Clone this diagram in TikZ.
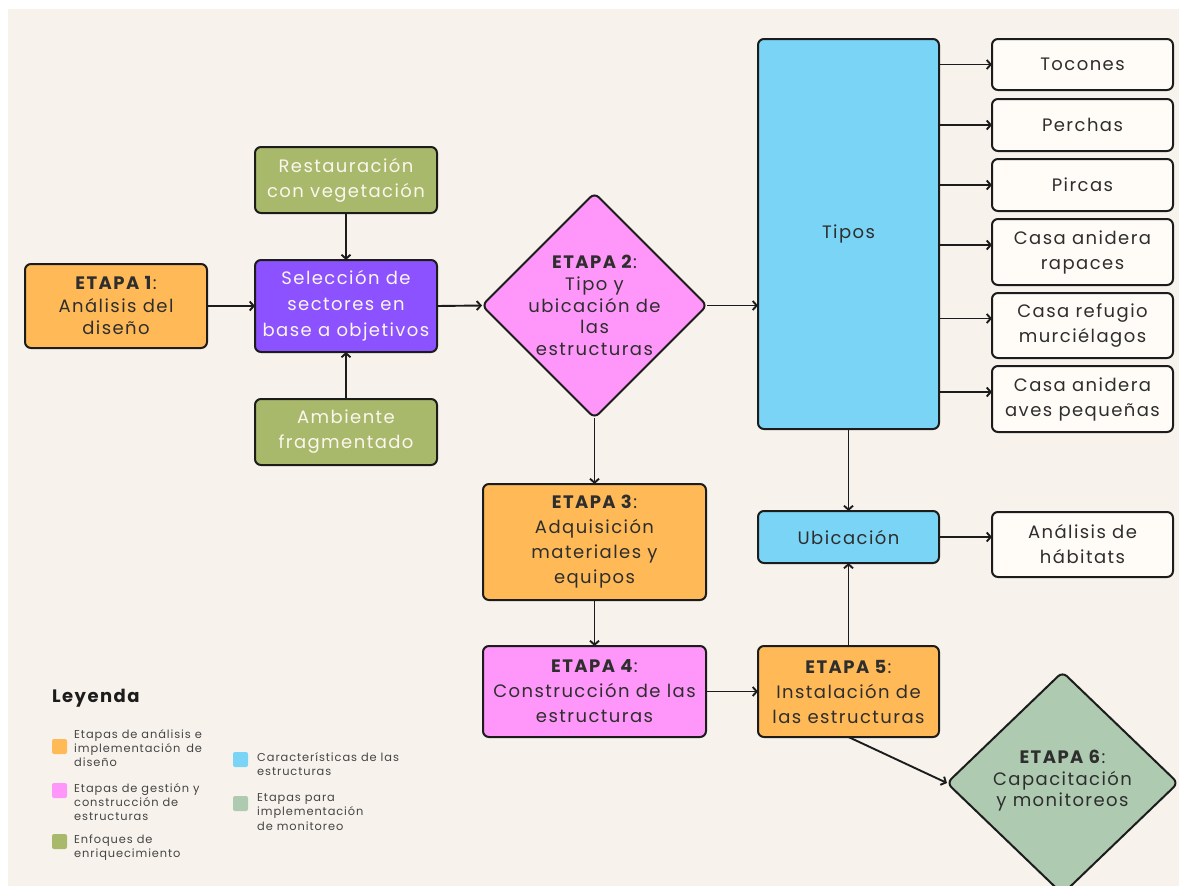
\documentclass[tikz,border=0pt]{standalone}
\usepackage{fontspec}
\setmainfont{Poppins}[LetterSpace=8]
\usetikzlibrary{arrows.meta,shapes.geometric,calc}
\definecolor{cream}{HTML}{F7F3EC}
\definecolor{orng}{HTML}{FFBA57}
\definecolor{purp}{HTML}{8C52FF}
\definecolor{olive}{HTML}{A9B96C}
\definecolor{pnk}{HTML}{FF97FA}
\definecolor{sky}{HTML}{7AD4F6}
\definecolor{sage}{HTML}{AECAB0}
\definecolor{paper}{HTML}{FFFCF7}
\definecolor{ink}{HTML}{1C1C1C}
\definecolor{txt}{HTML}{2E2E2E}
\definecolor{lighttxt}{HTML}{FBF6EE}
\definecolor{legtxt}{HTML}{444444}
\tikzset{
  box/.style={draw=ink, line width=2pt, rounded corners=6pt, align=center, inner sep=0pt, outer sep=0pt,
    text=txt, font=\fontsize{18}{25}\selectfont},
  dia/.style={diamond, draw=ink, line width=2pt, rounded corners=6pt, inner sep=0pt, outer sep=0pt},
  diatext/.style={align=center, inner sep=0pt, text=txt, font=\fontsize{18}{21.7}\selectfont},
  arr/.style={draw=ink, line width=1.9pt, -{Straight Barb[length=4pt,width=9pt]}},
  legsq/.style={rounded corners=2pt, minimum width=15pt, minimum height=15pt, inner sep=0pt},
  legtext/.style={anchor=west, align=left, inner sep=0pt, text=legtxt, font=\fontsize{11.4}{14.2}\selectfont}
}
\begin{document}
\begin{tikzpicture}[x=1pt,y=-1pt]
\useasboundingbox (0,0) rectangle (1179,886);
\fill[white] (0,0) rectangle (1179,886);
\fill[cream] (8,9) rectangle (1179,886);

% main nodes
\node[box, fill=orng, minimum width=182, minimum height=84, font=\fontsize{18}{22.5}\selectfont] (e1) at (116,306) {\textbf{ETAPA 1}:\\Análisis del\\diseño};
\node[box, fill=olive, text=lighttxt, minimum width=182, minimum height=66] (rest) at (346,180) {Restauración\\con vegetación};
\node[box, fill=purp, text=lighttxt, minimum width=182, minimum height=92, font=\fontsize{18}{26}\selectfont] (sel) at (346,306) {Selección de\\sectores en\\base a objetivos};
\node[box, fill=olive, text=lighttxt, minimum width=182, minimum height=66] (amb) at (346,432) {Ambiente\\fragmentado};
\node[dia, fill=pnk, minimum width=225, minimum height=225] (e2) at (594.5,305.5) {};
\node[diatext] (e2t) at (e2.center) {\textbf{ETAPA 2}:\\Tipo y\\ubicación de\\las\\estructuras};
\node[box, fill=sky, minimum width=181, minimum height=390] (tipos) at (848.5,234) {Tipos};

\node[box, fill=paper, minimum width=181, minimum height=51] (toc) at (1082.5,64.5) {Tocones};
\node[box, fill=paper, minimum width=181, minimum height=52] (per) at (1082.5,125) {Perchas};
\node[box, fill=paper, minimum width=181, minimum height=52] (pir) at (1082.5,185) {Pircas};
\node[box, fill=paper, minimum width=181, minimum height=66] (rap) at (1082.5,252) {Casa anidera\\rapaces};
\node[box, fill=paper, minimum width=181, minimum height=65] (mur) at (1082.5,325.5) {Casa refugio\\murciélagos};
\node[box, fill=paper, minimum width=181, minimum height=66] (ave) at (1082.5,399) {Casa anidera\\aves pequeñas};

\node[box, fill=sky, minimum width=181, minimum height=52] (ubi) at (848.5,537) {Ubicación};
\node[box, fill=paper, minimum width=181, minimum height=65] (hab) at (1082.5,544.5) {Análisis de\\hábitats};

\node[box, fill=orng, minimum width=223, minimum height=116] (e3) at (594.5,542) {\textbf{ETAPA 3}:\\Adquisición\\materiales y\\equipos};
\node[box, fill=pnk, minimum width=223, minimum height=91] (e4) at (594.5,691.5) {\textbf{ETAPA 4}:\\Construcción de las\\estructuras};
\node[box, fill=orng, minimum width=181, minimum height=91] (e5) at (848.5,691.5) {\textbf{ETAPA 5}:\\Instalación de\\las estructuras};
\node[dia, fill=sage, minimum width=231, minimum height=222] (e6) at (1062.5,783) {};
\node[diatext, font=\fontsize{18}{21.5}\selectfont] (e6t) at (1062.5,781) {\textbf{ETAPA 6}:\\Capacitación\\y monitoreos};

% connectors
\draw[arr] (e1.east) -- (sel.west);
\draw[arr] (rest.south) -- (sel.north);
\draw[arr] (amb.north) -- (sel.south);
\draw[arr] (sel.east) -- (e2.west);
\draw[arr] (e2.east) -- (e2.east -| tipos.west);
\draw[arr] (toc.west -| tipos.east) -- (toc.west);
\draw[arr] (per.west -| tipos.east) -- (per.west);
\draw[arr] (pir.west -| tipos.east) -- (pir.west);
\coordinate (rapin) at ([yshift=7pt]rap.west);
\coordinate (murin) at ([yshift=7pt]mur.west);
\coordinate (avein) at ([yshift=7pt]ave.west);
\draw[arr] (rapin -| tipos.east) -- (rapin);
\draw[arr] (murin -| tipos.east) -- (murin);
\draw[arr] (avein -| tipos.east) -- (avein);
\draw[arr] (tipos.south) -- (ubi.north);
\draw[arr] (e5.north) -- (ubi.south);
\draw[arr] (ubi.east) -- (ubi.east -| hab.west);
\draw[arr] (e2.south) -- (e3.north);
\draw[arr] (e3.south) -- (e4.north);
\draw[arr] (e4.east) -- (e5.west);
\draw[arr] (e5.south) -- (e6.west);

% legend
\node[anchor=west, inner sep=0pt, text=ink, font=\fontsize{18}{20}\selectfont\bfseries] (leyenda) at (52,698) {Leyenda};
\node[legsq, fill=orng] (lq1) at (59.5,746.5) {};
\node[legtext] (lt1) at (74,748) {Etapas de análisis e\\implementación\, de\\diseño};
\node[legsq, fill=pnk] (lq2) at (59.5,790.5) {};
\node[legtext] (lt2) at (74,802) {Etapas de gestión y\\construcción de\\estructuras};
\node[legsq, fill=olive] (lq3) at (59.5,841.5) {};
\node[legtext] (lt3) at (74,847.5) {Enfoques de\\enriquecimiento};
\node[legsq, fill=sky] (lq4) at (240.5,759.5) {};
\node[legtext] (lt4) at (257,764) {Características de las\\estructuras};
\node[legsq, fill=sage] (lq5) at (240.5,803.5) {};
\node[legtext] (lt5) at (257,812) {Etapas para\\implementación\\de monitoreo};
\end{tikzpicture}
\end{document}
